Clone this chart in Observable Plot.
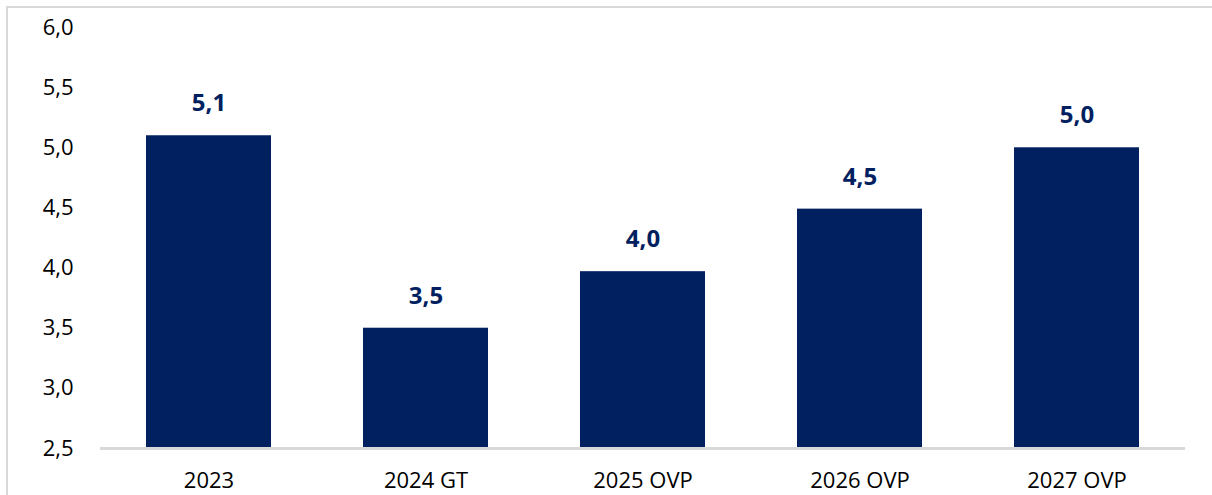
<!DOCTYPE html>
<html>
<head>
<meta charset="utf-8">
<script src="https://cdn.jsdelivr.net/npm/d3@7"></script>
<script src="https://cdn.jsdelivr.net/npm/@observablehq/plot@0.6"></script>
<style>
  html, body { margin: 0; padding: 0; background: #fff; }
  #wrap { position: relative; width: 1212px; height: 495px; overflow: hidden; }
  #frame { position: absolute; left: 6px; top: 6px; right: -10px; bottom: -10px;
           border-top: 2px solid #d9d9d9; border-left: 2px solid #d9d9d9; pointer-events: none; }
  #chart { position: absolute; left: 0; top: 0; }
</style>
</head>
<body>
<div id="wrap">
  <div id="frame"></div>
  <div id="chart"></div>
</div>
<script>
const categories = ["2023", "2024 GT", "2025 OVP", "2026 OVP", "2027 OVP"];
const values = [5.1, 3.5, 3.97, 4.49, 5.0];
const yTicks = [2.5, 3.0, 3.5, 4.0, 4.5, 5.0, 5.5, 6.0];

const locale = d3.formatLocale({decimal: ",", thousands: ".", grouping: [3], currency: ["", " €"]});
const fmt = locale.format(".1f");

const data = categories.map((c, i) => ({cat: c, value: values[i]}));
const navy = "#002060";

const chart = Plot.plot({
  width: 1212,
  height: 495,
  marginLeft: 100,
  marginRight: 27,
  marginTop: 27,
  marginBottom: 47,
  style: {fontFamily: "'Open Sans', sans-serif", fontSize: "22px", color: "#000", background: "transparent", overflow: "visible"},
  x: {domain: categories, paddingInner: 0.424, paddingOuter: 0.212, label: null},
  y: {domain: [2.5, 6], label: null},
  marks: [
    Plot.barY(data, {x: "cat", y1: 2.5, y2: "value", fill: navy}),
    Plot.ruleY([2.5], {stroke: "#d9d9d9", strokeWidth: 3}),
    Plot.text(data, {x: "cat", y: "value", text: d => fmt(d.value), dy: -32, fill: navy,
                     fontWeight: "bold", fontSize: 24}),
    Plot.axisX({tickSize: 0, tickPadding: 24, fontSize: 22, label: null, fill: "#000"}),
    Plot.axisY({ticks: yTicks, tickFormat: fmt, tickSize: 0, tickPadding: 27, fontSize: 22, label: null, fill: "#000"})
  ]
});
document.getElementById("chart").appendChild(chart);
</script>
</body>
</html>
